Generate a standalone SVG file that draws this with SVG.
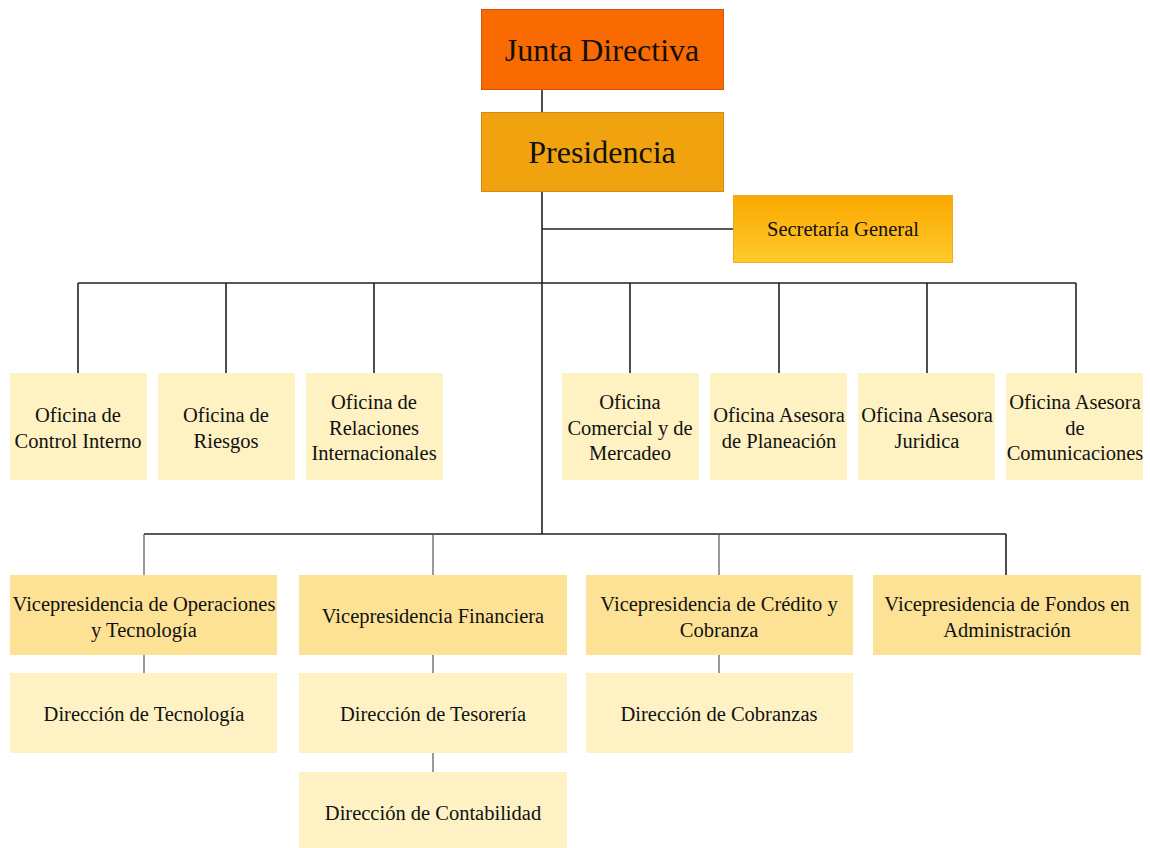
<svg xmlns="http://www.w3.org/2000/svg" width="1150" height="848" viewBox="0 0 1150 848">
<defs>
<linearGradient id="secg" x1="0" y1="0" x2="0" y2="1">
<stop offset="0" stop-color="#FBA800"/>
<stop offset="1" stop-color="#FFCA2C"/>
</linearGradient>
<style>
.t{font-size:20.5px;}
.big{font-size:32px;}
.off{fill:#FEF1C2;}
.vp{fill:#FDE296;}
.dir{fill:#FEF2C4;}
.main{stroke:#222;stroke-width:1.6;fill:none;}
.sub{stroke:#555;stroke-width:1.2;fill:none;}
</style>
</defs>
<rect width="1150" height="848" fill="#fff"/>
<g id="connectors">
<line class="main" x1="542" y1="90" x2="542" y2="112"/>
<line class="main" x1="542" y1="192" x2="542" y2="534"/>
<line class="main" x1="542" y1="229" x2="733" y2="229"/>
<line class="main" x1="78" y1="283" x2="1076" y2="283"/>
<line class="main" x1="78" y1="283" x2="78" y2="373"/>
<line class="main" x1="226" y1="283" x2="226" y2="373"/>
<line class="main" x1="374" y1="283" x2="374" y2="373"/>
<line class="main" x1="630" y1="283" x2="630" y2="373"/>
<line class="main" x1="779" y1="283" x2="779" y2="373"/>
<line class="main" x1="927" y1="283" x2="927" y2="373"/>
<line class="main" x1="1076" y1="283" x2="1076" y2="373"/>
<line class="main" x1="144" y1="534" x2="1006" y2="534"/>
<line class="sub" x1="144" y1="534" x2="144" y2="575"/>
<line class="sub" x1="433" y1="534" x2="433" y2="575"/>
<line class="sub" x1="719" y1="534" x2="719" y2="575"/>
<line class="main" x1="1006" y1="534" x2="1006" y2="575"/>
<line class="sub" x1="144" y1="655" x2="144" y2="673"/>
<line class="sub" x1="433" y1="655" x2="433" y2="673"/>
<line class="sub" x1="719" y1="655" x2="719" y2="673"/>
<line class="sub" x1="433" y1="753" x2="433" y2="772"/>
</g>
<g font-family="Liberation Serif, Times New Roman, serif" fill="#111" text-anchor="middle">
<g id="junta">
<rect x="481.5" y="9.5" width="242" height="80" fill="#F96A00" stroke="#D9500A" stroke-width="1"/>
<text class="big" x="602" y="61">Junta Directiva</text>
</g>
<g id="presidencia">
<rect x="481.5" y="112.5" width="242" height="79" fill="#F0A30F" stroke="#D98A12" stroke-width="1"/>
<text class="big" x="602" y="163">Presidencia</text>
</g>
<g id="secretaria">
<rect x="733.5" y="195.5" width="219" height="67" fill="url(#secg)" stroke="#E8B020" stroke-width="1"/>
<text class="t" x="843" y="236">Secretaría General</text>
</g>
<g id="of1">
<rect class="off" x="10" y="373" width="137" height="107"/>
<text class="t" x="78" y="422">Oficina de</text>
<text class="t" x="78" y="448">Control Interno</text>
</g>
<g id="of2">
<rect class="off" x="158" y="373" width="137" height="107"/>
<text class="t" x="226" y="422">Oficina de</text>
<text class="t" x="226" y="448">Riesgos</text>
</g>
<g id="of3">
<rect class="off" x="306" y="373" width="137" height="107"/>
<text class="t" x="374" y="409">Oficina de</text>
<text class="t" x="374" y="435">Relaciones</text>
<text class="t" x="374" y="460">Internacionales</text>
</g>
<g id="of4">
<rect class="off" x="562" y="373" width="137" height="107"/>
<text class="t" x="630" y="409">Oficina</text>
<text class="t" x="630" y="435">Comercial y de</text>
<text class="t" x="630" y="460">Mercadeo</text>
</g>
<g id="of5">
<rect class="off" x="710" y="373" width="137" height="107"/>
<text class="t" x="779" y="422">Oficina Asesora</text>
<text class="t" x="779" y="448">de Planeación</text>
</g>
<g id="of6">
<rect class="off" x="858" y="373" width="137" height="107"/>
<text class="t" x="927" y="422">Oficina Asesora</text>
<text class="t" x="927" y="448">Juridica</text>
</g>
<g id="of7">
<rect class="off" x="1006" y="373" width="137" height="107"/>
<text class="t" x="1075" y="409">Oficina Asesora</text>
<text class="t" x="1075" y="435">de</text>
<text class="t" x="1075" y="460">Comunicaciones</text>
</g>
<g id="vp1">
<rect class="vp" x="10" y="575" width="267" height="80"/>
<text class="t" x="144" y="611">Vicepresidencia de Operaciones</text>
<text class="t" x="144" y="637">y Tecnología</text>
</g>
<g id="vp2">
<rect class="vp" x="299" y="575" width="268" height="80"/>
<text class="t" x="433" y="623">Vicepresidencia Financiera</text>
</g>
<g id="vp3">
<rect class="vp" x="586" y="575" width="267" height="80"/>
<text class="t" x="719" y="611">Vicepresidencia de Crédito y</text>
<text class="t" x="719" y="637">Cobranza</text>
</g>
<g id="vp4">
<rect class="vp" x="873" y="575" width="268" height="80"/>
<text class="t" x="1007" y="611">Vicepresidencia de Fondos en</text>
<text class="t" x="1007" y="637">Administración</text>
</g>
<g id="dir1">
<rect class="dir" x="10" y="673" width="267" height="80"/>
<text class="t" x="144" y="721">Dirección de Tecnología</text>
</g>
<g id="dir2">
<rect class="dir" x="299" y="673" width="268" height="80"/>
<text class="t" x="433" y="721">Dirección de Tesorería</text>
</g>
<g id="dir3">
<rect class="dir" x="586" y="673" width="267" height="80"/>
<text class="t" x="719" y="721">Dirección de Cobranzas</text>
</g>
<g id="dir4">
<rect class="dir" x="299" y="772" width="268" height="80"/>
<text class="t" x="433" y="820">Dirección de Contabilidad</text>
</g>
</g>
</svg>
